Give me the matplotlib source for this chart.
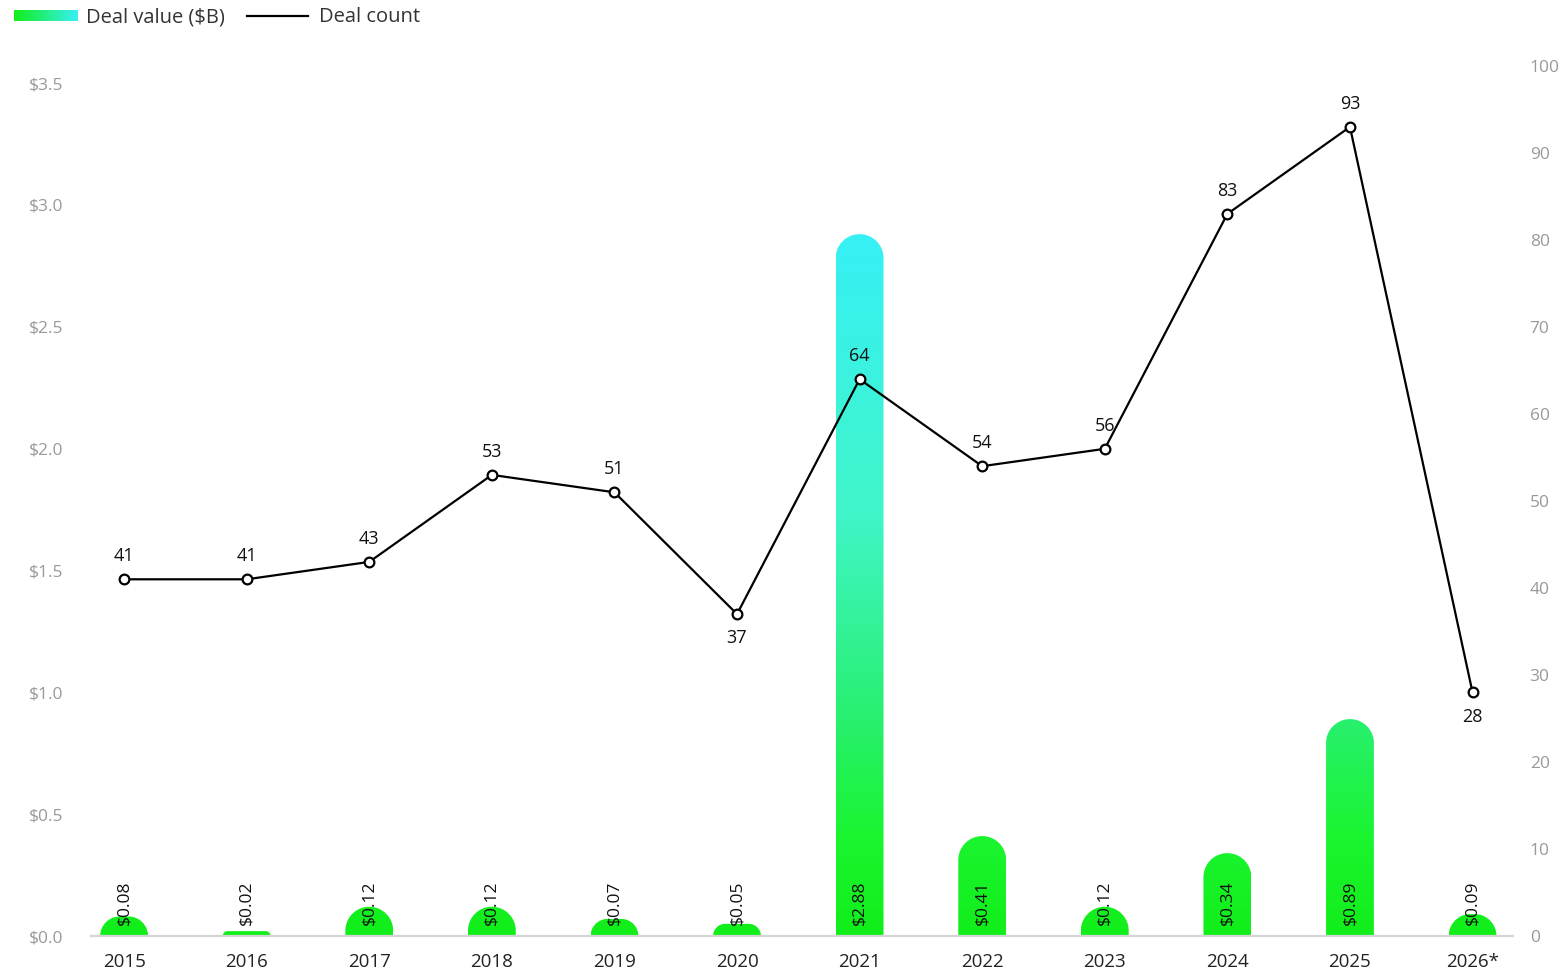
import numpy as np
import matplotlib
matplotlib.use("Agg")
import matplotlib.pyplot as plt
from matplotlib.colors import LinearSegmentedColormap
from matplotlib.patches import Polygon
from matplotlib.lines import Line2D

plt.rcParams['font.family'] = ['Open Sans', 'DejaVu Sans']

# Yearly deal data
years = ['2015', '2016', '2017', '2018', '2019', '2020',
         '2021', '2022', '2023', '2024', '2025', '2026*']
deal_value = [0.08, 0.02, 0.12, 0.12, 0.07, 0.05, 2.88, 0.41, 0.12, 0.34, 0.89, 0.09]
deal_count = [41, 41, 43, 53, 51, 37, 64, 54, 56, 83, 93, 28]
count_below = [False, False, False, False, False, True, False, False, False, False, False, True]

W, H, DPI = 1567, 973, 100
fig = plt.figure(figsize=(W / DPI, H / DPI), dpi=DPI)
ax_l, ax_r, ax_t, ax_b = 91, 1513, 66, 936
ax = fig.add_axes([ax_l / W, (H - ax_b) / H, (ax_r - ax_l) / W, (ax_b - ax_t) / H])
ax2 = ax.twinx()

x = np.arange(len(years))
xlim = (-0.27, 11.33)
ylim = (0, 3.57)
ax.set_xlim(*xlim)
ax.set_ylim(*ylim)
ax2.set_ylim(0, 100)

grad = LinearSegmentedColormap.from_list('deal', [
    (0.0, '#12ee1a'), (0.14, '#1af530'), (0.31, '#28f070'),
    (0.6, '#40f5c8'), (1.0, '#36f0f5')])

# pixel -> data conversion for rounded bar tops
px_x = (xlim[1] - xlim[0]) / (ax_r - ax_l)
px_y = (ylim[1] - ylim[0]) / (ax_b - ax_t)
bar_w = 0.39
r_px = bar_w / px_x / 2
vmax = max(deal_value)
gradient = np.linspace(0, 1, 400).reshape(-1, 1)

for xi, v in zip(x, deal_value):
    h_px = v / px_y
    r = min(r_px, h_px)
    rx, ry = r * px_x, r * px_y
    x0, x1 = xi - bar_w / 2, xi + bar_w / 2
    t = np.linspace(0, np.pi / 2, 30)
    pts = [(x0, -1)]
    pts += [(x0 + rx - rx * np.cos(a), v - ry + ry * np.sin(a)) for a in t]
    pts += [(x1 - rx + rx * np.sin(a), v - ry + ry * np.cos(a)) for a in t]
    pts += [(x1, -1)]
    shape = Polygon(pts, closed=True, facecolor='none', edgecolor='none',
                    transform=ax.transData)
    ax.add_patch(shape)
    im = ax.imshow(gradient, cmap=grad, origin='lower', aspect='auto',
                   extent=(x0, x1, 0, vmax), zorder=2, interpolation='bilinear')
    im.set_clip_path(shape)
    ax.annotate(f'${v:.2f}', (xi, 0), xytext=(0, 8), textcoords='offset points',
                rotation=90, ha='center', va='bottom', fontsize=12.5,
                color='#111111', zorder=4)

ax.set_xlim(*xlim)
ax.set_ylim(*ylim)

# Deal count line
ax2.plot(x, deal_count, color='black', lw=1.6, marker='o', markersize=7,
         markerfacecolor='white', markeredgecolor='black', markeredgewidth=1.6,
         zorder=5)
for xi, c, below in zip(x, deal_count, count_below):
    ax2.annotate(str(c), (xi, c), xytext=(0, -11 if below else 10),
                 textcoords='offset points', ha='center',
                 va='top' if below else 'bottom', fontsize=13, color='#111111')

ax.set_xticks(x)
ax.set_xticklabels(years, fontsize=13.5, color='#222222')
ax.set_yticks(np.arange(0, 3.51, 0.5))
ax.set_yticklabels([f'${v:.1f}' for v in np.arange(0, 3.51, 0.5)],
                   fontsize=12.5, color='#999999')
ax2.set_yticks(range(0, 101, 10))
ax2.set_yticklabels([str(v) for v in range(0, 101, 10)], fontsize=12.5,
                    color='#999999', ha='left')
ax.tick_params(axis='x', length=0, pad=12)
ax.tick_params(axis='y', length=0, pad=20)
ax2.tick_params(axis='y', length=0, pad=12)

for a in (ax, ax2):
    for s in ('top', 'left', 'right', 'bottom'):
        a.spines[s].set_visible(False)
ax.add_line(Line2D([0, 1], [0, 0], transform=ax.transAxes, color='#d4d4d4',
                   lw=1.6, zorder=3, clip_on=False))

# Legend drawn at the top left
leg_ax = fig.add_axes([14 / W, (H - 21) / H, 64 / W, 11 / H])
leg_ax.imshow(np.linspace(0, 1, 200).reshape(1, -1),
              cmap=LinearSegmentedColormap.from_list('lg', ['#12ee1a', '#36f0f5']),
              aspect='auto', extent=(0, 1, 0, 1))
leg_ax.axis('off')
fig.text(86 / W, 1 - 17 / H, 'Deal value ($B)', fontsize=14.5, color='#333333',
         va='center', ha='left')
fig.add_artist(Line2D([247 / W, 308 / W], [1 - 16 / H, 1 - 16 / H],
                      color='black', lw=1.6, transform=fig.transFigure))
fig.text(319 / W, 1 - 17 / H, 'Deal count', fontsize=14.5, color='#333333',
         va='center', ha='left')

fig.savefig('out.png', dpi=DPI)
